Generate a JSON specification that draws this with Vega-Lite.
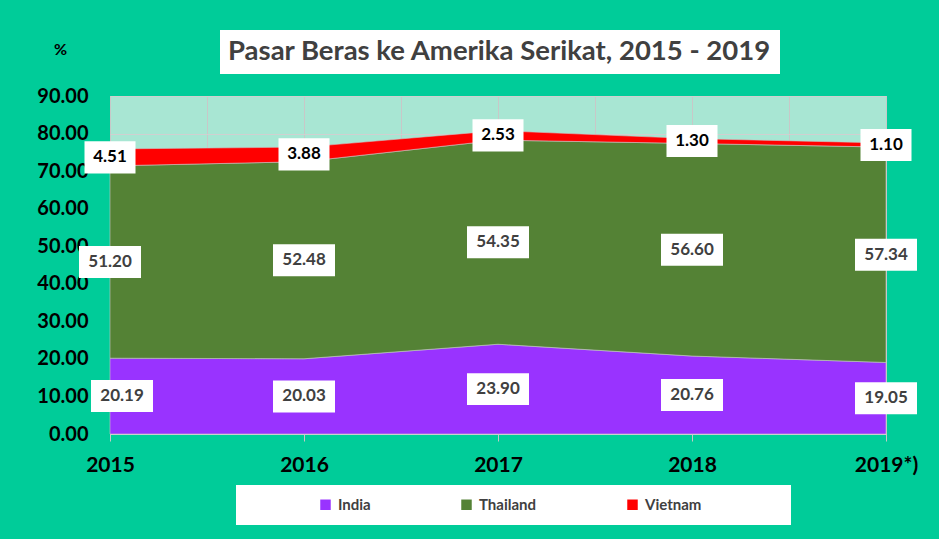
{
  "$schema": "https://vega.github.io/schema/vega-lite/v6.json",
  "autosize": {"type": "none"},
  "width": 776,
  "height": 338,
  "padding": {"left": 110, "top": 96, "right": 53, "bottom": 105},
  "background": "#00CC99",
  "config": {
    "font": "Lato",
    "view": {"fill": "#A8E6D3", "stroke": "#D0D0D0", "strokeWidth": 1},
    "axis": {"labelOverlap": false},
    "axisY": {"labelOverlap": false}
  },
  "data": {
    "values": [
      {"year": 2015, "country": "India", "value": 20.19},
      {"year": 2016, "country": "India", "value": 20.03},
      {"year": 2017, "country": "India", "value": 23.90},
      {"year": 2018, "country": "India", "value": 20.76},
      {"year": 2019, "country": "India", "value": 19.05},
      {"year": 2015, "country": "Thailand", "value": 51.20},
      {"year": 2016, "country": "Thailand", "value": 52.48},
      {"year": 2017, "country": "Thailand", "value": 54.35},
      {"year": 2018, "country": "Thailand", "value": 56.60},
      {"year": 2019, "country": "Thailand", "value": 57.34},
      {"year": 2015, "country": "Vietnam", "value": 4.51},
      {"year": 2016, "country": "Vietnam", "value": 3.88},
      {"year": 2017, "country": "Vietnam", "value": 2.53},
      {"year": 2018, "country": "Vietnam", "value": 1.30},
      {"year": 2019, "country": "Vietnam", "value": 1.10}
    ]
  },
  "transform": [
    {"stack": "value", "groupby": ["year"], "sort": [{"field": "country", "order": "ascending"}], "as": ["v0", "v1"]},
    {"calculate": "(datum.v0 + datum.v1) / 2", "as": "mid"}
  ],
  "layer": [
    {
      "mark": {"type": "area", "opacity": 1, "stroke": "#C8C8C8", "strokeWidth": 0.6},
      "encoding": {
        "x": {
          "field": "year", "type": "quantitative",
          "scale": {"domain": [2015, 2019], "nice": false, "zero": false},
          "axis": {
            "title": null,
            "values": [2015, 2015.5, 2016, 2016.5, 2017, 2017.5, 2018, 2018.5, 2019],
            "labelExpr": "datum.value % 1 === 0 ? (datum.value === 2019 ? '2019*)' : '' + datum.value) : ''",
            "labelFlush": false,
            "labelOverlap": false,
            "labelFont": "Lato",
            "labelFontSize": 21,
            "labelFontWeight": "bold",
            "labelColor": "#000000",
            "labelPadding": 13,
            "tickSize": 7,
            "tickColor": "#C8C8C8",
            "tickOpacity": {"condition": {"test": "datum.value % 1 === 0", "value": 1}, "value": 0},
            "domainColor": "#D0D0D0",
            "grid": true,
            "gridColor": "#C8C8C8"
          }
        },
        "y": {
          "field": "v1", "type": "quantitative",
          "scale": {"domain": [0, 90], "nice": false},
          "axis": {
            "title": "%",
            "titleAngle": 0,
            "titleX": -50,
            "titleY": -47,
            "titleAlign": "center",
            "titleBaseline": "middle",
            "titleFont": "Lato",
            "titleFontSize": 16,
            "titleFontWeight": "bold",
            "titleColor": "#000000",
            "values": [0, 10, 20, 30, 40, 50, 60, 70, 80, 90],
            "tickCount": 10,
            "format": ".2f",
            "labelOverlap": false,
            "labelFont": "Lato",
            "labelFontSize": 20,
            "labelFontWeight": "bold",
            "labelColor": "#000000",
            "labelPadding": 22,
            "ticks": false,
            "domain": false,
            "grid": true,
            "gridColor": "#D0D0D0"
          }
        },
        "y2": {"field": "v0"},
        "color": {
          "field": "country", "type": "nominal",
          "scale": {"domain": ["India", "Thailand", "Vietnam"], "range": ["#9933FF", "#548235", "#FF0000"]},
          "legend": {
            "orient": "none",
            "legendX": 126,
            "legendY": 389,
            "direction": "horizontal",
            "title": "\u00a0",
            "titleOrient": "left",
            "titleFontSize": 15,
            "titlePadding": 70,
            "fillColor": "#FFFFFF",
            "padding": 12,
            "symbolType": "square",
            "symbolSize": 110,
            "symbolStrokeWidth": 0,
            "labelFont": "Lato",
            "labelFontSize": 15,
            "labelFontWeight": "bold",
            "labelColor": "#404040",
            "labelOffset": 5,
            "columnPadding": 88,
            "labelLimit": 300,
            "labelExpr": "datum.label === 'Vietnam' ? 'Vietnam\u2800\u2800\u2800\u2800\u2800\u2800\u2800' : datum.label"
          }
        }
      }
    },
    {
      "transform": [{"filter": "datum.country === 'Vietnam'"}],
      "mark": {"type": "point", "shape": "M-1,-0.63L1,-0.63L1,0.63L-1,0.63Z", "size": 2601, "filled": true, "fill": "#FFFFFF", "opacity": 1, "strokeWidth": 0},
      "encoding": {
        "x": {"field": "year", "type": "quantitative"},
        "y": {"field": "mid", "type": "quantitative"}
      }
    },
    {
      "transform": [{"filter": "datum.country !== 'Vietnam' && !(datum.year === 2015 && datum.country === 'India')"}],
      "mark": {"type": "point", "shape": "M-1,-0.516L1,-0.516L1,0.516L-1,0.516Z", "size": 3844, "filled": true, "fill": "#FFFFFF", "opacity": 1, "strokeWidth": 0},
      "encoding": {
        "x": {"field": "year", "type": "quantitative"},
        "y": {"field": "mid", "type": "quantitative"}
      }
    },
    {
      "transform": [{"filter": "datum.year === 2015 && datum.country === 'India'"}],
      "mark": {"type": "point", "shape": "M-0.613,-0.516L1.387,-0.516L1.387,0.516L-0.613,0.516Z", "size": 3844, "filled": true, "fill": "#FFFFFF", "opacity": 1, "strokeWidth": 0},
      "encoding": {
        "x": {"field": "year", "type": "quantitative"},
        "y": {"field": "mid", "type": "quantitative"}
      }
    },
    {
      "transform": [{"filter": "!(datum.year === 2015 && datum.country === 'India')"}],
      "mark": {"type": "text", "font": "Lato", "fontSize": 17, "fontWeight": "bold", "align": "center", "baseline": "middle"},
      "encoding": {
        "x": {"field": "year", "type": "quantitative"},
        "y": {"field": "mid", "type": "quantitative"},
        "text": {"field": "value", "type": "quantitative", "format": ".2f"},
        "color": {"condition": {"test": "datum.country === 'Vietnam'", "value": "#000000"}, "value": "#404040"}
      }
    },
    {
      "transform": [{"filter": "datum.year === 2015 && datum.country === 'India'"}],
      "mark": {"type": "text", "font": "Lato", "fontSize": 17, "fontWeight": "bold", "align": "center", "baseline": "middle", "dx": 12, "color": "#404040"},
      "encoding": {
        "x": {"field": "year", "type": "quantitative"},
        "y": {"field": "mid", "type": "quantitative"},
        "text": {"field": "value", "type": "quantitative", "format": ".2f"}
      }
    },
    {
      "transform": [{"filter": "datum.year === 2015 && datum.country === 'India'"}],
      "mark": {"type": "point", "opacity": 0},
      "encoding": {
        "x": {"field": "year", "type": "quantitative"},
        "y": {"field": "v1", "type": "quantitative"},
        "shape": {
          "field": "year", "type": "nominal",
          "legend": {
            "orient": "none",
            "legendX": 110,
            "legendY": -66,
            "direction": "horizontal",
            "title": "Pasar Beras ke Amerika Serikat, 2015 - 2019",
            "titleOrient": "top",
            "titleFont": "Lato",
            "titleFontSize": 27.5,
            "titleFontWeight": "bold",
            "titleColor": "#404040",
            "titlePadding": 0,
            "titleLimit": 800,
            "fillColor": "#FFFFFF",
            "padding": 8,
            "symbolSize": 0,
            "symbolOpacity": 0,
            "symbolStrokeWidth": 0,
            "labelExpr": "''",
            "labelFontSize": 1,
            "labelOffset": 0
          }
        }
      }
    }
  ]
}
